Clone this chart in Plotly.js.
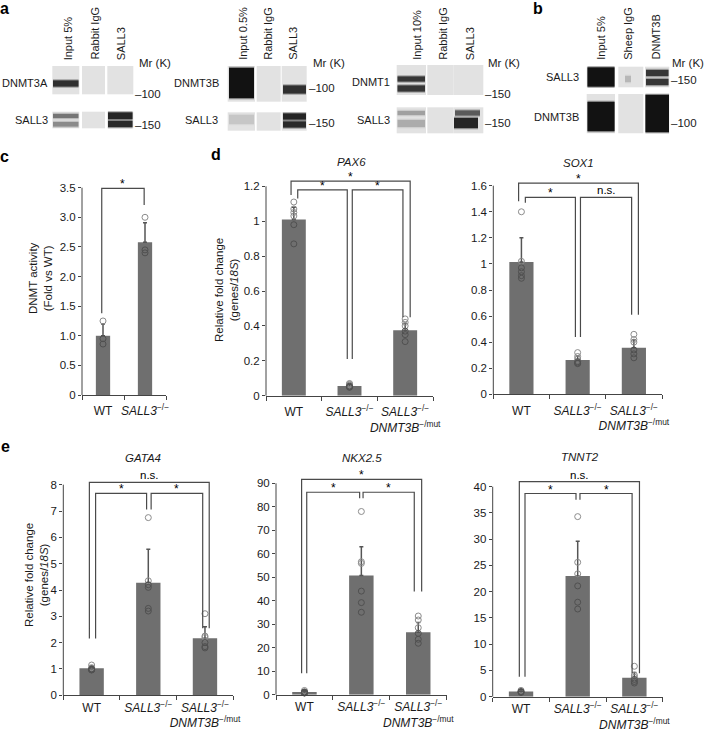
<!DOCTYPE html>
<html><head><meta charset="utf-8">
<script src="https://cdn.plot.ly/plotly-3.0.1.min.js"></script>
<style>html,body{margin:0;padding:0;background:#fff}#chart{width:704px;height:732px}</style>
</head><body><div id="chart"></div>
<script>
// ================= DATA =================
const genotypeLabelsC = ['WT', '<i>SALL3</i><sup>−/−</sup>'];
const genotypeLabels = ['WT', '<i>SALL3</i><sup>−/−</sup>', '<i>SALL3</i><sup>−/−</sup><br><i>DNMT3B</i><sup>−/mut</sup>'];

// c: DNMT activity
const dnmtMean = [1.0, 2.58];
const dnmtErr = [0.2, 0.33];
const dnmtDots = [[1.25, 0.95, 0.86], [3.0, 2.45, 2.40]];
const dnmtTicks = [0, 0.5, 1, 1.5, 2, 2.5, 3, 3.5];
const dnmtTickText = ['0', '0.5', '1.0', '1.5', '2.0', '2.5', '3.0', '3.5'];
const dnmtBrackets = [[0, 1, 3.49, 1.38, 3.21, '*', -0.03, -0.02]];

// d: PAX6
const pax6Mean = [1.01, 0.055, 0.375];
const pax6Err = [0.07, 0.012, 0.04];
const pax6Dots = [[1.11, 1.07, 1.05, 1.03, 0.98, 0.87], [0.07, 0.065, 0.06, 0.055, 0.05, 0.048], [0.44, 0.42, 0.40, 0.37, 0.35, 0.31]];
const pax6Ticks = [0, 0.2, 0.4, 0.6, 0.8, 1, 1.2];
const pax6TickText = ['0', '0.2', '0.4', '0.6', '0.8', '1', '1.2'];
const pax6Brackets = [[0, 2, 1.23, 1.15, 0.45, '*', -0.05, 0.09], [0, 1, 1.18, 1.13, 0.21, '*', 0.07, -0.04], [1, 2, 1.18, 0.21, 0.45, '*', 0.05, -0.04]];

// d: SOX1
const sox1Mean = [1.015, 0.263, 0.358];
const sox1Err = [0.185, 0.03, 0.06];
const sox1Dots = [[1.40, 1.02, 0.97, 0.94, 0.91, 0.89], [0.32, 0.29, 0.27, 0.25, 0.24, 0.235], [0.46, 0.42, 0.40, 0.34, 0.31, 0.28]];
const sox1Ticks = [0, 0.2, 0.4, 0.6, 0.8, 1, 1.2, 1.4, 1.6];
const sox1TickText = ['0', '0.2', '0.4', '0.6', '0.8', '1', '1.2', '1.4', '1.6'];
const sox1Brackets = [[0, 2, 1.62, 1.48, 0.61, '*', -0.05, 0.08], [0, 1, 1.51, 1.47, 0.44, '*', 0.07, -0.04], [1, 2, 1.51, 0.44, 0.61, 'n.s.', 0.05, -0.04]];

// e: GATA4
const gata4Mean = [1.03, 4.28, 2.17];
const gata4Err = [0.08, 1.27, 0.43];
const gata4Dots = [[1.15, 1.05, 1.0, 0.98, 0.97, 0.96], [6.75, 4.35, 4.2, 4.1, 3.3, 3.2], [3.1, 2.25, 2.2, 2.0, 1.85, 1.8]];
const gata4Ticks = [0, 1, 2, 3, 4, 5, 6, 7, 8];
const gata4TickText = ['0', '1', '2', '3', '4', '5', '6', '7', '8'];
const gata4Brackets = [[0, 2, 8.09, 2.16, 2.55, 'n.s.', -0.04, 0.075], [0, 1, 7.67, 2.16, 7.06, '*', 0.07, -0.03], [1, 2, 7.67, 7.06, 2.55, '*', 0.05, -0.04]];

// e: NKX2.5
const nkxMean = [1.2, 50.8, 26.6];
const nkxErr = [0.6, 12.2, 4.1];
const nkxDots = [[1.8, 1.2, 1.0, 0.9, 0.8, 0.7], [78, 56.6, 55.9, 44.1, 39.2, 35.1], [33.5, 31.8, 28.5, 26.1, 23.6, 21.9]];
const nkxTicks = [0, 10, 20, 30, 40, 50, 60, 70, 80, 90];
const nkxTickText = ['0', '10', '20', '30', '40', '50', '60', '70', '80', '90'];
const nkxBrackets = [[0, 2, 91.7, 9.1, 43.9, '*', -0.05, 0.06], [0, 1, 86.2, 9.1, 83.6, '*', 0.04, -0.03], [1, 2, 86.2, 83.6, 43.9, '*', 0.03, -0.07]];

// e: TNNT2
const tnntMean = [1.0, 23.0, 3.6];
const tnntErr = [0.3, 6.6, 1.0];
const tnntDots = [[1.2, 1.0, 0.9, 0.8], [34.3, 25.6, 23.4, 21.1, 18.0, 16.7], [5.8, 4.1, 3.7, 3.3, 2.9, 2.6]];
const tnntTicks = [0, 5, 10, 15, 20, 25, 30, 35, 40];
const tnntTickText = ['0', '5', '10', '15', '20', '25', '30', '35', '40'];
const tnntBrackets = [[0, 2, 40.95, 3.8, 4.45, 'n.s.', -0.03, 0.09], [0, 1, 38.7, 3.8, 37.5, '*', 0.07, -0.03], [1, 2, 38.7, 37.5, 4.45, '*', 0.04, -0.04]];

// ================= LAYOUT HELPERS =================
const W = 704, H = 732;
const fx = x => x / W;
const fy = y => 1 - y / H;
const FONT = 'Liberation Sans, Arial, Helvetica, sans-serif';
const AX = '#444';
const TXT = '#1a1a1a';

const panels = [
  {xL: 82, xR: 166, y0: 395, topPx: 187.7, topVal: 3.5, domTop: 172, standoff: 5, mean: dnmtMean, err: dnmtErr, dots: dnmtDots, ticks: dnmtTicks, tickText: dnmtTickText, labels: genotypeLabelsC, barW: 0.34, brackets: dnmtBrackets},
  {xL: 266, xR: 433, y0: 395.7, topPx: 186.3, topVal: 1.2, domTop: 172, standoff: 5, mean: pax6Mean, err: pax6Err, dots: pax6Dots, ticks: pax6Ticks, tickText: pax6TickText, labels: genotypeLabels, barW: 0.43, brackets: pax6Brackets},
  {xL: 493.3, xR: 662, y0: 394.3, topPx: 185.7, topVal: 1.6, domTop: 172, standoff: 5, mean: sox1Mean, err: sox1Err, dots: sox1Dots, ticks: sox1Ticks, tickText: sox1TickText, labels: genotypeLabels, barW: 0.43, brackets: sox1Brackets},
  {xL: 63.3, xR: 233.3, y0: 695.3, topPx: 484.7, topVal: 8, domTop: 474, standoff: 1, mean: gata4Mean, err: gata4Err, dots: gata4Dots, ticks: gata4Ticks, tickText: gata4TickText, labels: genotypeLabels, barW: 0.43, brackets: gata4Brackets},
  {xL: 276, xR: 446.7, y0: 694.7, topPx: 483.3, topVal: 90, domTop: 474, standoff: 1, mean: nkxMean, err: nkxErr, dots: nkxDots, ticks: nkxTicks, tickText: nkxTickText, labels: genotypeLabels, barW: 0.43, brackets: nkxBrackets},
  {xL: 492.7, xR: 662.7, y0: 696.7, topPx: 486.7, topVal: 40, domTop: 474, standoff: 1, mean: tnntMean, err: tnntErr, dots: tnntDots, ticks: tnntTicks, tickText: tnntTickText, labels: genotypeLabels, barW: 0.43, brackets: tnntBrackets}
];

const data = [];
const shapes = [];
const annotations = [];
const layout = {
  width: W, height: H, margin: {l: 0, r: 0, t: 0, b: 0},
  paper_bgcolor: '#fff', plot_bgcolor: 'rgba(0,0,0,0)',
  showlegend: false, font: {family: FONT, color: TXT, size: 11.5},
  shapes: shapes, annotations: annotations
};

panels.forEach((p, k) => {
  const s = k === 0 ? '' : String(k + 1);
  const n = p.mean.length;
  const idx = p.mean.map((_, i) => i);
  const ppu = (p.y0 - p.topPx) / p.topVal;
  const rangeMax = (p.y0 - p.domTop) / ppu;
  const bounds = [];
  for (let i = 0; i <= n; i++) bounds.push(i - 0.5);

  layout['xaxis' + s] = {
    domain: [fx(p.xL), fx(p.xR)], range: [-0.5, n - 0.5], anchor: 'y' + s,
    showline: true, linecolor: AX, linewidth: 1, ticks: '', tickmode: 'array', tickangle: 0,
    tickvals: idx, ticktext: p.labels, tickfont: {size: 12, color: TXT, family: FONT},
    showgrid: false, zeroline: false, fixedrange: true, ticklabelstandoff: p.standoff,
    minor: {tickmode: 'array', tickvals: bounds, ticks: 'outside', ticklen: 4, tickcolor: AX, tickwidth: 1, showgrid: false}
  };
  layout['yaxis' + s] = {
    domain: [fy(p.y0), fy(p.domTop)], range: [0, rangeMax], anchor: 'x' + s,
    showline: false, ticks: 'outside', ticklen: 3, tickcolor: AX, tickwidth: 1,
    tickmode: 'array', tickvals: p.ticks, ticktext: p.tickText,
    tickfont: {size: 11.5, color: TXT, family: FONT},
    showgrid: false, zeroline: false, fixedrange: true
  };
  shapes.push({type: 'line', xref: 'paper', yref: 'paper', x0: fx(p.xL), x1: fx(p.xL), y0: fy(p.y0), y1: fy(p.topPx), line: {color: AX, width: 1}});

  data.push({
    type: 'bar', x: idx, y: p.mean, xaxis: 'x' + s, yaxis: 'y' + s, width: p.barW,
    marker: {color: '#6f6f6f', line: {width: 0}},
    error_y: {type: 'data', symmetric: false, array: p.err, arrayminus: p.err.map(() => 0), color: '#555', thickness: 1.5, width: 2},
    hoverinfo: 'skip'
  });
  const dx = [], dy = [], dc = [];
  p.dots.forEach((arr, i) => arr.forEach(v => { dx.push(i); dy.push(v); dc.push(v > p.mean[i] ? '#8c8c8c' : '#505050'); }));
  data.push({
    type: 'scatter', mode: 'markers', x: dx, y: dy, xaxis: 'x' + s, yaxis: 'y' + s,
    marker: {symbol: 'circle-open', size: 6, color: dc, line: {width: 1}},
    cliponaxis: false, hoverinfo: 'skip'
  });
  p.brackets.forEach(b => {
    const xa = b[0] + b[6], xb = b[1] + b[7];
    data.push({
      type: 'scatter', mode: 'lines', x: [xa, xa, xb, xb], y: [b[3], b[2], b[2], b[4]],
      xaxis: 'x' + s, yaxis: 'y' + s, line: {color: '#4a4a4a', width: 1.2}, hoverinfo: 'skip'
    });
    annotations.push({
      xref: 'x' + s, yref: 'y' + s, x: (xa + xb) / 2, y: b[2], text: b[5], showarrow: false,
      xanchor: 'center', yanchor: 'bottom', yshift: b[5] === '*' ? -5 : -1,
      font: {size: b[5] === '*' ? 12 : 11.5, color: '#000', family: FONT}
    });
  });
});

// ---------- text helpers ----------
function txt(x, y, text, opts) {
  annotations.push(Object.assign({
    xref: 'paper', yref: 'paper', x: fx(x), y: fy(y), text: text, showarrow: false,
    xanchor: 'center', yanchor: 'middle', font: {size: 11.5, color: TXT, family: FONT}
  }, opts || {}));
}

// panel letters
[['a', 4, 8], ['b', 538, 9], ['c', 4, 156], ['d', 216, 155], ['e', 5, 447]].forEach(l =>
  txt(l[1], l[2], '<b>' + l[0] + '</b>', {font: {size: 16, color: '#000', family: FONT}}));

// gene titles
txt(351.7, 161.7, '<i>PAX6</i>');
txt(578.3, 163.3, '<i>SOX1</i>');
txt(143.3, 458.3, '<i>GATA4</i>');
txt(361.7, 458.3, '<i>NKX2.5</i>');
txt(580, 456.7, '<i>TNNT2</i>');

// y-axis titles
txt(40, 278, 'DNMT activity<br>(Fold vs WT)', {textangle: -90});
txt(226, 290, 'Relative fold change<br>(genes/<i>18S</i>)', {textangle: -90});
txt(36, 575, 'Relative fold change<br>(genes/<i>18S</i>)', {textangle: -90});

// ---------- western blots ----------
function lane(x0, x1, y0, y1) {
  shapes.push({type: 'rect', xref: 'paper', yref: 'paper', x0: fx(x0), x1: fx(x1), y0: fy(y1), y1: fy(y0), fillcolor: '#e2e2e2', line: {width: 0}, layer: 'below'});
}
function band(x0, x1, y0, y1, a) {
  [[1.5, 0.2], [0.7, 0.35], [0, 0.8]].forEach(e => {
    shapes.push({type: 'rect', xref: 'paper', yref: 'paper', x0: fx(x0), x1: fx(x1), y0: fy(y1 + e[0]), y1: fy(y0 - e[0]),
      fillcolor: 'rgba(15,15,15,' + Math.min(1, a * e[1]).toFixed(3) + ')', line: {width: 0}});
  });
}
// a1
[[52.3, 79.3], [82, 105], [107.3, 133.3]].forEach(l => { lane(l[0], l[1], 66, 94.3); lane(l[0], l[1], 111.7, 128.3); });
band(53, 78.5, 80.5, 86.5, 0.9);
band(53, 78.5, 114, 118, 0.45); band(53, 78.5, 122, 126.5, 0.35);
band(108, 132.5, 112.5, 119, 1); band(108, 132.5, 121, 127, 0.95);
// a2
[[227.7, 255], [256.7, 280.7], [281.7, 306.7]].forEach(l => { lane(l[0], l[1], 66, 101.7); lane(l[0], l[1], 112.3, 130.7); });
band(229, 254, 68, 98, 1.2);
band(283, 306, 85.5, 93.5, 0.9);
band(229, 254, 115, 124, 0.1);
band(283, 306, 113.5, 119.5, 1); band(283, 306, 121.5, 127.5, 0.95);
// a3
[[396.7, 426], [427.3, 453.3], [453.3, 483.3]].forEach(l => { lane(l[0], l[1], 65, 95); lane(l[0], l[1], 107.3, 133.3); });
band(397.5, 425, 76.5, 81.5, 0.85); band(397.5, 425, 85.5, 91.5, 0.85);
band(397.5, 425, 111, 115, 0.25); band(397.5, 425, 120, 127, 0.2);
band(455, 480, 110.5, 115.5, 0.6); band(454, 478, 118, 128, 1);
// b
[[586.7, 615], [618.3, 643.3], [645, 669.3]].forEach(l => { lane(l[0], l[1], 66.7, 87.3); lane(l[0], l[1], 94, 133.3); });
band(587.5, 614.5, 67.5, 86.5, 1.2);
band(625, 631, 76, 82, 0.15);
band(646, 668.5, 70, 76, 0.85); band(646, 668.5, 79, 85, 0.85);
band(587.5, 614.5, 102, 131, 1.2);
band(645.5, 669, 95, 132, 1.2);

// blot labels
const rowLab = (xr, y, t) => txt(xr, y, t, {xanchor: 'right', xshift: 1, font: {size: 11, color: TXT, family: FONT}});
rowLab(49, 83, 'DNMT3A'); rowLab(49, 120, 'SALL3');
rowLab(220, 83, 'DNMT3B'); rowLab(219, 120, 'SALL3');
rowLab(391, 82, 'DNMT1'); rowLab(391, 120, 'SALL3');
rowLab(580, 77, 'SALL3'); rowLab(580, 117, 'DNMT3B');
const laneLab = (x, t) => txt(x, 62, t, {textangle: -90, yanchor: 'bottom', font: {size: 11, color: TXT, family: FONT}});
[[68.3, 'Input 5%'], [95, 'Rabbit IgG'], [121.7, 'SALL3'],
 [243.3, 'Input 0.5%'], [268.3, 'Rabbit IgG'], [293.3, 'SALL3'],
 [416.7, 'Input 10%'], [443.3, 'Rabbit IgG'], [470.7, 'SALL3'],
 [600.7, 'Input 5%'], [628.3, 'Sheep IgG'], [656, 'DNMT3B']].forEach(l => laneLab(l[0], l[1]));
[[155, 'Mr (K)'], [329, 'Mr (K)'], [504, 'Mr (K)'], [688, 'Mr (K)']].forEach(l => txt(l[0], 63, l[1]));
const mr = (x, y, t) => txt(x, y, t, {xanchor: 'left'});
mr(133, 94.3, '–100'); mr(133, 125, '–150');
mr(307, 88.3, '–100'); mr(307, 123.3, '–150');
mr(483, 94, '–150'); mr(483, 123.3, '–150');
mr(669, 80, '–150'); mr(669, 123.3, '–100');

Plotly.newPlot('chart', data, layout, {staticPlot: true, displayModeBar: false});
</script>
</body></html>
